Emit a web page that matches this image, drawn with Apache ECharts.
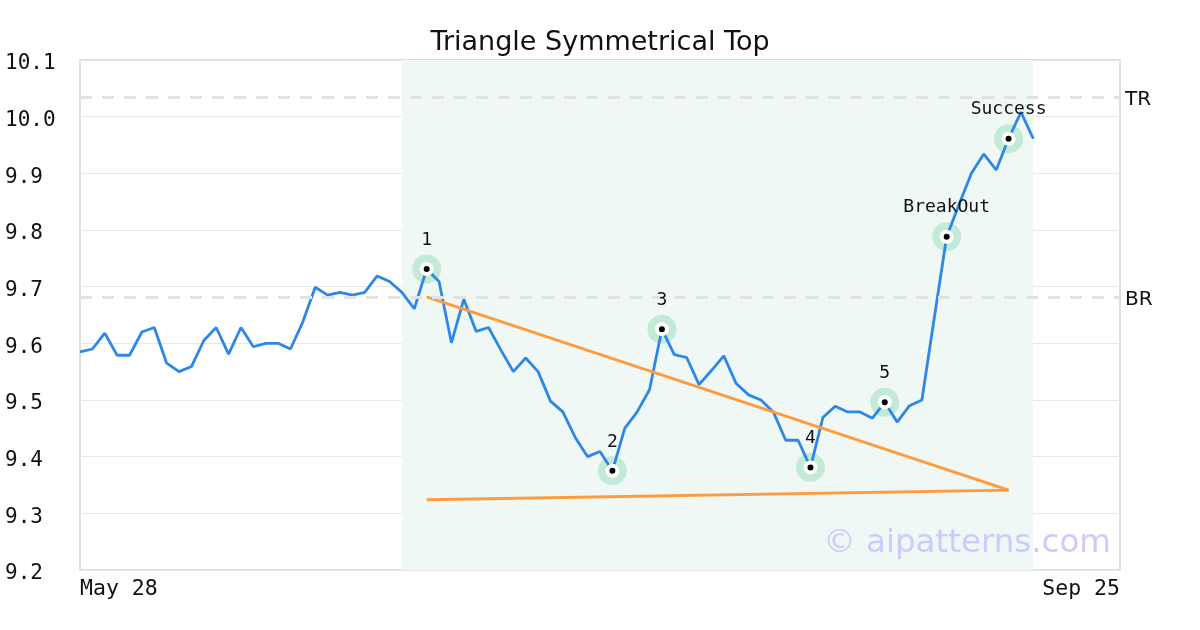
<!DOCTYPE html>
<html>
<head>
<meta charset="utf-8">
<script src="https://cdn.jsdelivr.net/npm/echarts@6/dist/echarts.min.js"></script>
<style>
html,body{margin:0;padding:0;background:#fff;}
#c{width:1200px;height:630px;}
</style>
</head>
<body>
<div id="c"></div>
<script>
// ---- data ----
const xTickLabels = ['May 28', 'Sep 25'];
const xMax = 84;
const prices = [
  9.585, 9.590, 9.618, 9.579, 9.579, 9.620, 9.628, 9.565, 9.550, 9.559,
  9.605, 9.628, 9.581, 9.628, 9.594, 9.600, 9.600, 9.590, 9.638, 9.699,
  9.685, 9.690, 9.685, 9.690, 9.719, 9.709, 9.690, 9.661, 9.731, 9.709,
  9.601, 9.678, 9.621, 9.628, 9.588, 9.550, 9.574, 9.550, 9.498, 9.479,
  9.434, 9.400, 9.409, 9.375, 9.450, 9.479, 9.518, 9.625, 9.580, 9.575,
  9.527, 9.552, 9.578, 9.529, 9.509, 9.500, 9.479, 9.429, 9.429, 9.381,
  9.469, 9.489, 9.479, 9.479, 9.468, 9.496, 9.461, 9.490, 9.500, 9.645,
  9.788, 9.845, 9.900, 9.934, 9.906, 9.961, 10.008, 9.961
];
const pointIdx = [28, 43, 47, 59, 65, 70, 75];
const pointLabels = ['1', '2', '3', '4', '5', 'BreakOut', 'Success'];
const upperTrend = [[28, 9.682], [75, 9.341]];
const lowerTrend = [[28, 9.324], [75, 9.341]];
const patternRange = [26, 77];
const levels = [{ name: 'TR', value: 10.035 }, { name: 'BR', value: 9.682 }];
const yMin = 9.2, yMax = 10.1, yStep = 0.1;

// ---- chart ----
const chart = echarts.init(document.getElementById('c'), null, { renderer: 'canvas' });
const lineData = prices.map((v, i) => [i, v]);
const ptData = pointIdx.map((i, k) => ({ value: [i, prices[i]], label: { formatter: pointLabels[k] } }));
const mono = 'DejaVu Sans Mono';
const sans = 'DejaVu Sans';

chart.setOption({
  animation: false,
  backgroundColor: '#fff',
  title: {
    text: 'Triangle Symmetrical Top',
    left: 'center', top: 24,
    textStyle: { fontFamily: sans, fontSize: 27, fontWeight: 'normal', color: '#111' }
  },
  grid: { left: 80, right: 80, top: 60, bottom: 60, show: true, borderColor: '#dedede', borderWidth: 2, backgroundColor: 'transparent' },
  xAxis: {
    type: 'value', min: 0, max: xMax, interval: xMax,
    axisLine: { show: false }, axisTick: { show: false }, splitLine: { show: false },
    axisLabel: {
      margin: 8, fontFamily: mono, fontSize: 21.5, color: '#111',
      alignMinLabel: 'left', alignMaxLabel: 'right',
      formatter: v => (v === 0 ? xTickLabels[0] : (v === xMax ? xTickLabels[1] : ''))
    }
  },
  yAxis: {
    type: 'value', min: yMin, max: yMax, interval: yStep,
    axisLine: { show: false }, axisTick: { show: false },
    splitLine: { lineStyle: { color: '#e8e8e8', width: 1 } },
    axisLabel: {
      margin: 75, align: 'left', color: '#111',
      formatter: v => '{t|' + v.toFixed(1) + '}',
      rich: { t: { fontFamily: mono, fontSize: 21, color: '#111', padding: [8, 0, 0, 0] } }
    }
  },
  graphic: [{
    type: 'text', right: 89, top: 527, z: 50,
    style: { text: '© aipatterns.com', font: '32.5px "DejaVu Sans"', fill: '#ccccfa' }
  }],
  series: [
    {
      type: 'scatter', z: 1, data: ptData.map(d => d.value), symbolSize: 29,
      itemStyle: { color: '#c3ead7', opacity: 1 }, silent: true
    },
    {
      type: 'line', z: 2, data: lineData, showSymbol: false, symbol: 'none',
      lineStyle: { color: '#2e87e8', width: 2.8 },
      markArea: {
        silent: true,
        itemStyle: { color: '#eff8f4' },
        data: [[{ xAxis: patternRange[0] }, { xAxis: patternRange[1] }]]
      },
      markLine: {
        silent: true, symbol: 'none',
        lineStyle: { color: '#e2e2e2', width: 3, type: [12, 10] },
        label: {
          position: 'end', distance: 5, color: '#111',
          formatter: p => '{t|' + p.name + '}',
          rich: { t: { fontFamily: sans, fontSize: 20, color: '#111', padding: [5, 0, 0, 0] } }
        },
        data: levels.map(l => [
          { name: l.name, coord: [0, l.value] },
          { coord: [xMax, l.value] }
        ])
      }
    },
    {
      type: 'line', z: 3, data: upperTrend, showSymbol: false, symbol: 'none',
      lineStyle: { color: '#ff9b3d', width: 2.8 }
    },
    {
      type: 'line', z: 3, data: lowerTrend, showSymbol: false, symbol: 'none',
      lineStyle: { color: '#ff9b3d', width: 2.8 }
    },
    {
      type: 'scatter', z: 5, data: ptData, symbolSize: 10,
      itemStyle: { color: '#000', borderColor: '#fff', borderWidth: 4, opacity: 1 },
      label: { show: true, position: 'top', distance: 13, fontFamily: mono, fontSize: 18, color: '#111' }
    }
  ]
});
</script>
</body>
</html>
